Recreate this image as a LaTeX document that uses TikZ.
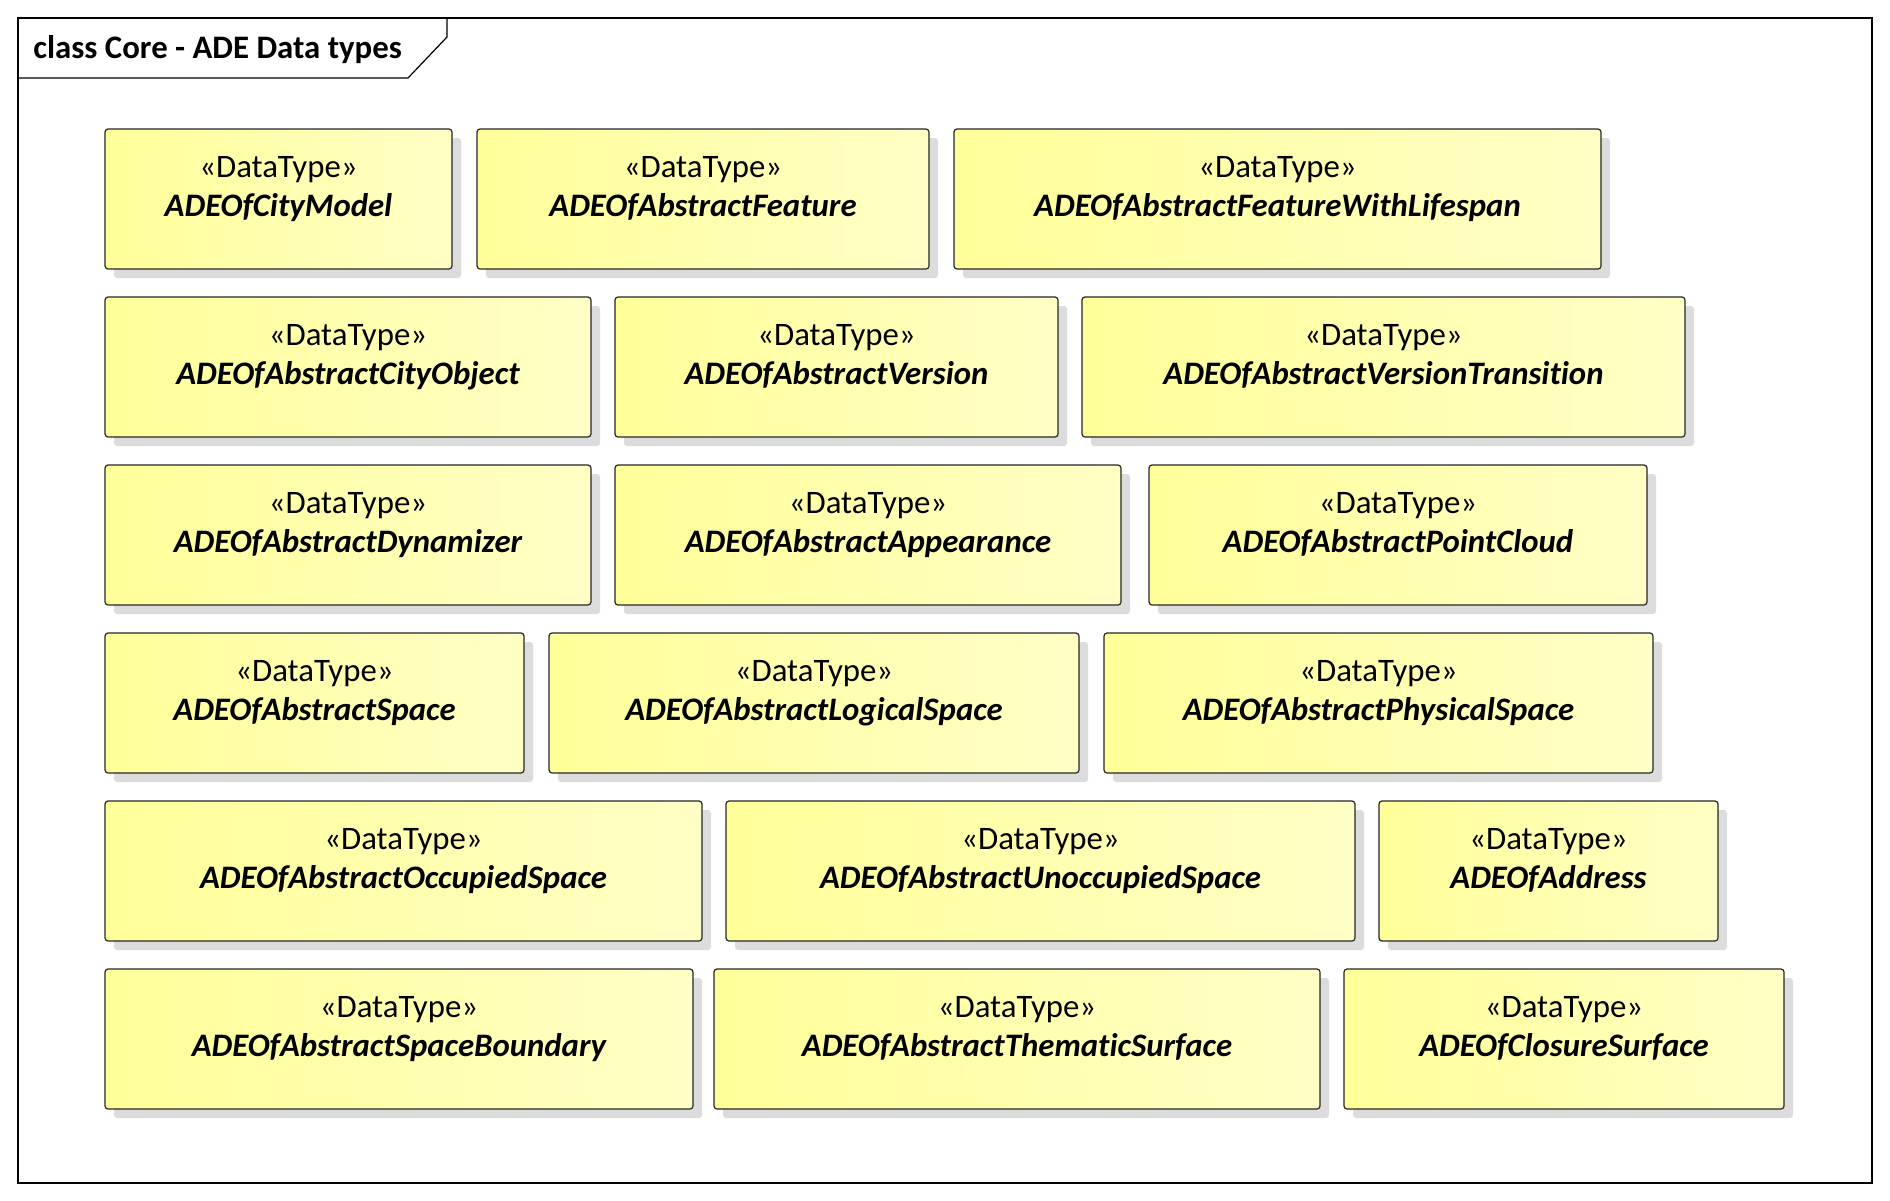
\documentclass[tikz,border=0pt]{standalone}
\usepackage{fontspec}
\setmainfont{Carlito}[Ligatures={NoCommon}]
\usetikzlibrary{shadows,calc}
\definecolor{yfillA}{HTML}{FFFF99}
\definecolor{yfillB}{HTML}{FFFFC6}
\definecolor{shadowgray}{HTML}{DCDCDC}
\tikzset{
  dtbox/.style={draw=black!85, line width=0.6pt, rounded corners=1.5pt,
    left color=yfillA, right color=yfillB, inner sep=0pt,
    drop shadow={shadow xshift=4.5pt, shadow yshift=-4.5pt, fill=shadowgray, opacity=1}},
  stereo/.style={anchor=base, inner sep=0pt, font=\fontsize{16.4pt}{18pt}\selectfont},
  tname/.style={anchor=base, inner sep=0pt, font=\fontsize{16.4pt}{18pt}\selectfont\bfseries\itshape},
  frameline/.style={draw=black, line width=0.6pt},
}
\newcommand{\DTBox}[5]{%
  \node[dtbox, minimum width={(#4-#2)*0.5pt}, minimum height=70pt] (#1) at ({(#2+#4)/2},{#3+70}) {};
  \node[stereo] (#1s) at ({(#2+#4)/2},{#3+48.5}) {«DataType»};
  \node[tname] (#1n) at ({(#2+#4)/2},{#3+87.5}) {#5};
}
\begin{document}
\begin{tikzpicture}[x=0.5pt,y=-0.5pt]
\useasboundingbox[fill=white] (0,0) rectangle (1890,1200);
\draw[frameline] (18,18) rectangle (1872,1183);
\draw[frameline] (18,78) -- (408,78) -- (447,37) -- (447,18);
\node[anchor=base west, inner sep=0pt, font=\fontsize{16.4pt}{18pt}\selectfont\bfseries] (title) at (33,58) {class Core - ADE Data types};
% row 1
\DTBox{b11}{105}{129}{452}{ADEOfCityModel}
\DTBox{b12}{477}{129}{929}{ADEOfAbstractFeature}
\DTBox{b13}{954}{129}{1601}{ADEOfAbstractFeatureWithLifespan}
% row 2
\DTBox{b21}{105}{297}{591}{ADEOfAbstractCityObject}
\DTBox{b22}{615}{297}{1058}{ADEOfAbstractVersion}
\DTBox{b23}{1082}{297}{1685}{ADEOfAbstractVersionTransition}
% row 3
\DTBox{b31}{105}{465}{591}{ADEOfAbstractDynamizer}
\DTBox{b32}{615}{465}{1121}{ADEOfAbstractAppearance}
\DTBox{b33}{1149}{465}{1647}{ADEOfAbstractPointCloud}
% row 4
\DTBox{b41}{105}{633}{524}{ADEOfAbstractSpace}
\DTBox{b42}{549}{633}{1079}{ADEOfAbstractLogicalSpace}
\DTBox{b43}{1104}{633}{1653}{ADEOfAbstractPhysicalSpace}
% row 5
\DTBox{b51}{105}{801}{702}{ADEOfAbstractOccupiedSpace}
\DTBox{b52}{726}{801}{1355}{ADEOfAbstractUnoccupiedSpace}
\DTBox{b53}{1379}{801}{1718}{ADEOfAddress}
% row 6
\DTBox{b61}{105}{969}{693}{ADEOfAbstractSpaceBoundary}
\DTBox{b62}{714}{969}{1320}{ADEOfAbstractThematicSurface}
\DTBox{b63}{1344}{969}{1784}{ADEOfClosureSurface}
\end{tikzpicture}
\end{document}
